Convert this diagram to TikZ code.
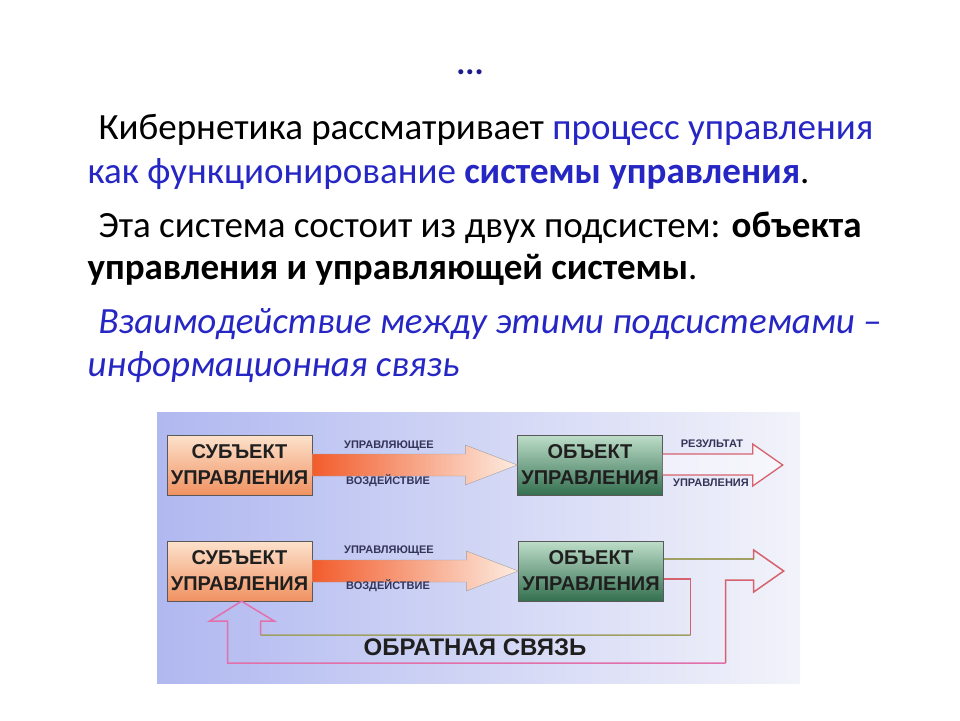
\documentclass[tikz,border=0pt]{standalone}
\usepackage{fontspec}
\usepackage{xcolor}
\usepackage{tikz}
\usetikzlibrary{positioning,calc}
\setmainfont{Carlito}
\newfontfamily\boxfont{Liberation Sans}

\definecolor{txtblue}{RGB}{38,38,196}
\definecolor{dotblue}{RGB}{28,28,140}
\definecolor{bgleft}{RGB}{176,184,240}
\definecolor{bgright}{RGB}{242,243,250}
\definecolor{subjtop}{RGB}{253,226,204}
\definecolor{subjbot}{RGB}{240,146,98}
\definecolor{objtop}{RGB}{190,222,202}
\definecolor{objbot}{RGB}{52,112,80}
\definecolor{shaftl}{RGB}{242,92,44}
\definecolor{shaftr}{RGB}{253,236,224}
\definecolor{lblcol}{RGB}{52,52,88}
\definecolor{redline}{RGB}{214,98,110}
\definecolor{pinkline}{RGB}{226,112,170}
\definecolor{oliveline}{RGB}{160,160,100}

\begin{document}
\begin{tikzpicture}[
            x=1pt, y=-1pt,
            line/.style={anchor=base west, font=\fontsize{37}{44}\selectfont},
            subjbox/.style={rectangle, draw=gray!70!black, top color=subjtop, bottom color=subjbot,
                minimum width=145pt, minimum height=60pt, align=center, text=black!88,
                font=\boxfont\bfseries\fontsize{20}{26}\selectfont},
            objbox/.style={subjbox, top color=objtop, bottom color=objbot},
            tag/.style={font=\boxfont\bfseries\fontsize{11}{12}\selectfont, text=lblcol, inner sep=0pt},
            ctrlarrow/.style={draw=gray!75, left color=shaftl, right color=shaftr, line join=miter},
            resarrow/.style={draw=redline, fill=white, fill opacity=0.45, line width=1.3pt, line join=miter},
            fbline/.style={line width=1.5pt, line join=miter}
        ]
            \useasboundingbox (0,0) rectangle (960,720);
            \fill[white] (0,0) rectangle (960,720);

            % Text
            \node[font=\bfseries\fontsize{34}{40}\selectfont, text=dotblue] (t0) at (470,72) {...};
            \node[line] (t1) at (95,139) {Кибернетика рассматривает {\color{txtblue}процесс управления}};
            \node[line, text=txtblue] (t2) at (84,183) {как функционирование \textbf{системы управления}{\color{black}.}};
            \node[line] (t3) at (95,237) {Эта система состоит из двух подсистем: \textbf{объекта}};
            \node[line] (t4) at (84,279) {\textbf{управления и управляющей системы}.};
            \node[line, text=txtblue, font=\itshape\fontsize{37}{44}\selectfont] (t5) at (95,333) {Взаимодействие между этими подсистемами –};
            \node[line, text=txtblue, font=\itshape\fontsize{37}{44}\selectfont] (t6) at (84,376) {информационная связь};

            % Panel
            \shade[left color=bgleft, right color=bgright] (157,412) rectangle (800,683);

            % Boxes
            \node[subjbox] (s1) at (239.5,465) {СУБЪЕКТ\\УПРАВЛЕНИЯ};
            \node[objbox] (o1) at (590,465) {ОБЪЕКТ\\УПРАВЛЕНИЯ};
            \node[subjbox] (s2) at (239.5,571) {СУБЪЕКТ\\УПРАВЛЕНИЯ};
            \node[objbox] (o2) at (591,571) {ОБЪЕКТ\\УПРАВЛЕНИЯ};

            % Row 1
            \shade[ctrlarrow] ($(s1.east)+(0,-11)$) -- ($(o1.west)+(-52,-11)$) -- ++(0,-9)
                -- (o1.west) -- ($(o1.west)+(-52,20)$) -- ++(0,-9) -- ($(s1.east)+(0,11)$) -- cycle;
            \path[resarrow] ($(o1.east)+(0,-11)$) -- ($(o1.east)+(90,-11)$) -- ++(0,-10)
                -- ($(o1.east)+(120,0)$) -- ($(o1.east)+(90,21)$) -- ++(0,-11) -- ($(o1.east)+(0,10)$);
            \node[tag] (u1) at (389,446) {УПРАВЛЯЮЩЕЕ};
            \node[tag] (v1) at (388,481) {ВОЗДЕЙСТВИЕ};
            \node[tag] (r1) at (712,444) {РЕЗУЛЬТАТ};
            \node[tag] (p1) at (711,483) {УПРАВЛЕНИЯ};

            % Row 2
            \shade[ctrlarrow] ($(s2.east)+(0,-11)$) -- ($(o2.west)+(-52,-11)$) -- ++(0,-9)
                -- (o2.west) -- ($(o2.west)+(-52,20)$) -- ++(0,-9) -- ($(s2.east)+(0,11)$) -- cycle;
            \node[tag] (u2) at (389,551) {УПРАВЛЯЮЩЕЕ};
            \node[tag] (v2) at (388,586) {ВОЗДЕЙСТВИЕ};

            % Feedback
            \coordinate (fa) at ($(o2.east)+(90,0)$);
            \coordinate (fb) at ($(s2.south)+(2,0)$);
            \draw[fbline, oliveline] ($(o2.east)+(0,-12)$) -- ($(fa)+(0,-12)$);
            \draw[fbline, redline] ($(fa)+(0,-12)$) -- ++(0,-9) -- ($(fa)+(30,0)$) -- ($(fa)+(0,21)$)
                -- ++(0,-12) -- ++(-28,0) -- ++(0,83);
            \draw[fbline, pinkline] ($(fa)+(-28,92)$) -- ($(fb)+(-14,62)$) -- ++(0,-42) -- ++(-18,0)
                -- (fb) -- ($(fb)+(33,20)$) -- ++(-14,0) -- ++(0,14);
            \draw[fbline, oliveline] ($(fb)+(19,34)$) -- ($(fa)+(-63,64)$);
            \draw[fbline, redline] ($(fa)+(-63,64)$) -- ++(0,-56) -- ($(o2.east)+(0,8)$);
            \node[font=\boxfont\bfseries\fontsize{24}{28}\selectfont, text=black!88] (fbl) at (475,647) {ОБРАТНАЯ СВЯЗЬ};
        \end{tikzpicture}
\end{document}
